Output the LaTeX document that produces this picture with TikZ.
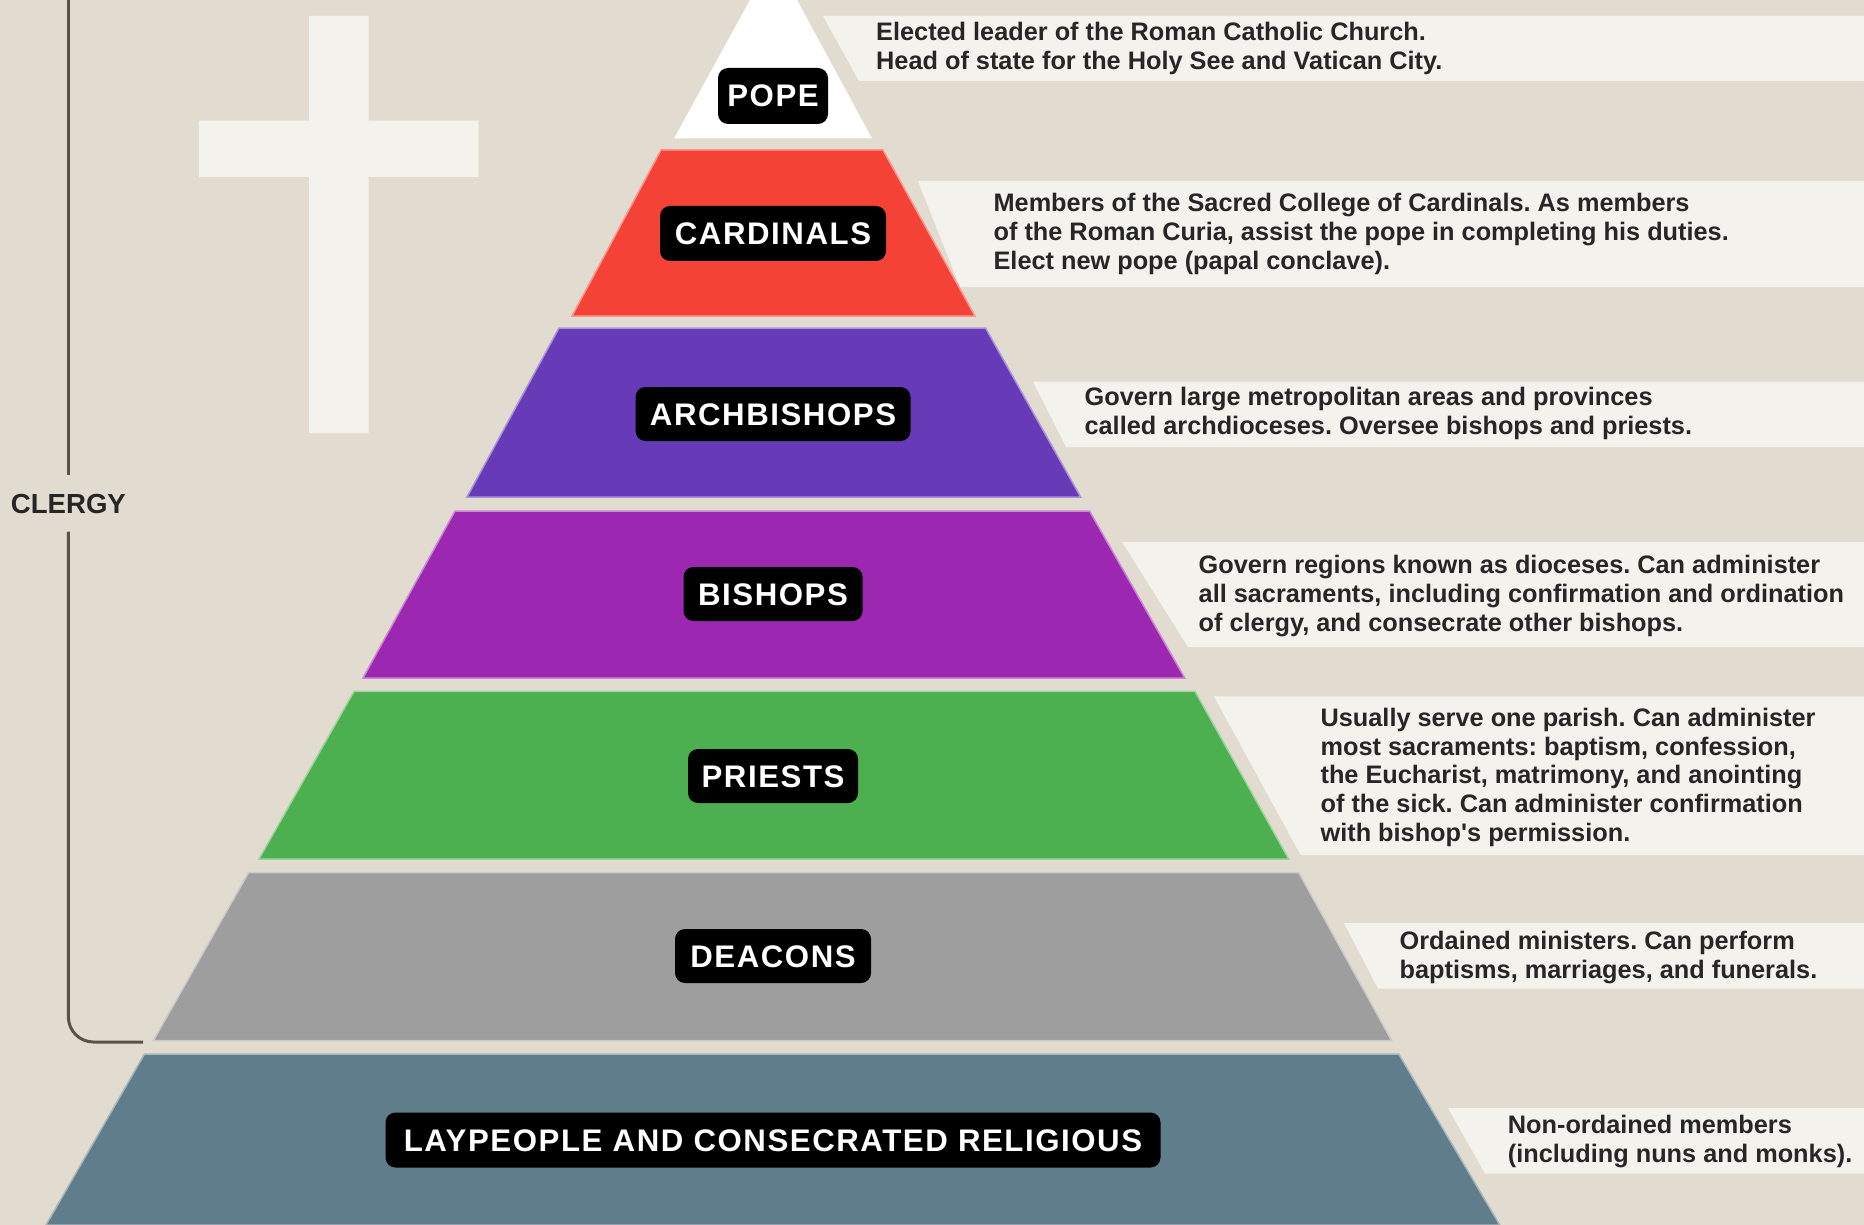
\documentclass[tikz,border=0pt]{standalone}
\usepackage{fontspec}
\setmainfont{Liberation Sans}
\newfontfamily\bodyfont{Liberation Sans Bold}
\newfontfamily\labelfont[LetterSpace=5]{Liberation Sans Bold}
\definecolor{bg}{HTML}{E2DCD0}
\definecolor{pale}{HTML}{F4F2EC}
\definecolor{tcard}{HTML}{F44336}
\definecolor{tarch}{HTML}{673AB7}
\definecolor{tbish}{HTML}{9C27B0}
\definecolor{tprie}{HTML}{4CAF50}
\definecolor{tdeac}{HTML}{9E9E9E}
\definecolor{tlay}{HTML}{607D8B}
\definecolor{rulec}{HTML}{5B5247}
\tikzset{
  x=1pt,y=-1pt,
  tier/.style={fill=#1,draw=#1!55!white,line width=1.5pt,line join=miter},
  bar/.style={fill=pale,draw=none},
  tag/.style={fill=black,text=white,rounded corners=10pt,inner sep=0pt,
    font=\labelfont\fontsize{31.2}{31.2}\selectfont,text height=22pt,text depth=0pt},
  info/.style={anchor=west,inner sep=0pt,align=left,text=black!85,
    font=\bodyfont\frenchspacing\fontsize{25.3}{28.9}\selectfont}
}
\begin{document}
\begin{tikzpicture}
\path[use as bounding box,fill=bg] (0,0) rectangle (1864,1225);
% cross
\fill[pale] (309,16) -- (368.6,16) -- (368.6,120.6) -- (478.6,120.6) -- (478.6,177) -- (368.6,177) -- (368.6,433) -- (309,433) -- (309,177) -- (199,177) -- (199,120.6) -- (309,120.6) -- cycle;
% bars
\fill[bar] (823,16) -- (1864,16) -- (1864,81) -- (859,81) -- cycle;
\fill[bar] (918,181) -- (1864,181) -- (1864,287) -- (960,287) -- cycle;
\fill[bar] (1033,381.6) -- (1864,381.6) -- (1864,447) -- (1066,447) -- cycle;
\fill[bar] (1122,542) -- (1864,542) -- (1864,647) -- (1188,647) -- cycle;
\fill[bar] (1214,696.4) -- (1864,696.4) -- (1864,855) -- (1300.6,855) -- cycle;
\fill[bar] (1344,923) -- (1864,923) -- (1864,988.5) -- (1378,988.5) -- cycle;
\fill[bar] (1448,1108) -- (1864,1108) -- (1864,1173.6) -- (1485,1173.6) -- cycle;
% tiers
\fill[white] (750,0) -- (797,0) -- (872,138.5) -- (674,138.5) -- cycle;
\path[tier=tcard] (661,150) -- (883,150) -- (975,316) -- (572,316) -- cycle;
\path[tier=tarch] (559,328) -- (985.5,328) -- (1080.6,497) -- (467,497) -- cycle;
\path[tier=tbish] (455,511) -- (1089.5,511) -- (1184.7,678) -- (363,678) -- cycle;
\path[tier=tprie] (354,691.4) -- (1195,691.4) -- (1288.7,859) -- (259,859) -- cycle;
\path[tier=tdeac] (248.5,872.7) -- (1298.8,872.7) -- (1391.6,1040.5) -- (153.4,1040.5) -- cycle;
\path[tier=tlay] (144.5,1054) -- (1398.7,1054) -- (1499.8,1225) -- (46,1225) -- cycle;
% labels
\node[tag,minimum width=110pt,minimum height=56pt] (pope) at (773,96) {POPE};
\node[tag,minimum width=226pt,minimum height=55pt] (cardinals) at (773,233.5) {CARDINALS};
\node[tag,minimum width=275pt,minimum height=54pt] (archbishops) at (773,414) {ARCHBISHOPS};
\node[tag,minimum width=179pt,minimum height=54pt] (bishops) at (773,594) {BISHOPS};
\node[tag,minimum width=170pt,minimum height=54pt] (priests) at (773,776) {PRIESTS};
\node[tag,minimum width=196pt,minimum height=54pt] (deacons) at (773,956) {DEACONS};
\node[tag,minimum width=775pt,minimum height=55pt] (lay) at (773,1140) {LAYPEOPLE AND CONSECRATED RELIGIOUS};
% descriptions
\node[info] (d1) at (876,49.6) {\strut Elected leader of the Roman Catholic Church.\\Head of state for the Holy See and Vatican City.\strut};
\node[info] (d2) at (993.4,235) {\strut Members of the Sacred College of Cardinals. As members\\of the Roman Curia, assist the pope in completing his duties.\\Elect new pope (papal conclave).\strut};
\node[info] (d3) at (1084.4,414.5) {\strut Govern large metropolitan areas and provinces\\called archdioceses. Oversee bishops and priests.\strut};
\node[info] (d4) at (1198.5,597) {\strut Govern regions known as dioceses. Can administer\\all sacraments, including confirmation and ordination\\of clergy, and consecrate other bishops.\strut};
\node[info] (d5) at (1320.4,778.2) {\strut Usually serve one parish. Can administer\\most sacraments: baptism, confession,\\the Eucharist, matrimony, and anointing\\of the sick. Can administer confirmation\\with bishop's permission.\strut};
\node[info] (d6) at (1399.5,957.8) {\strut Ordained ministers. Can perform\\baptisms, marriages, and funerals.\strut};
\node[info] (d7) at (1507.7,1142.2) {\strut Non-ordained members\\(including nuns and monks).\strut};
% clergy bracket
\node[inner sep=0pt,minimum height=56pt,font=\bodyfont\fontsize{27.6}{27.6}\selectfont,text=black!85] (clergy) at (68.4,503.5) {CLERGY};
\coordinate (ctop) at (68.4,0);
\coordinate (ccorner) at (68.4,1042);
\coordinate (cend) at (143,1042);
\draw[rulec,line width=3pt] (clergy.north) -- (ctop);
\draw[rulec,line width=3pt,rounded corners=25pt] (clergy.south) -- (ccorner) -- (cend);
\end{tikzpicture}
\end{document}
